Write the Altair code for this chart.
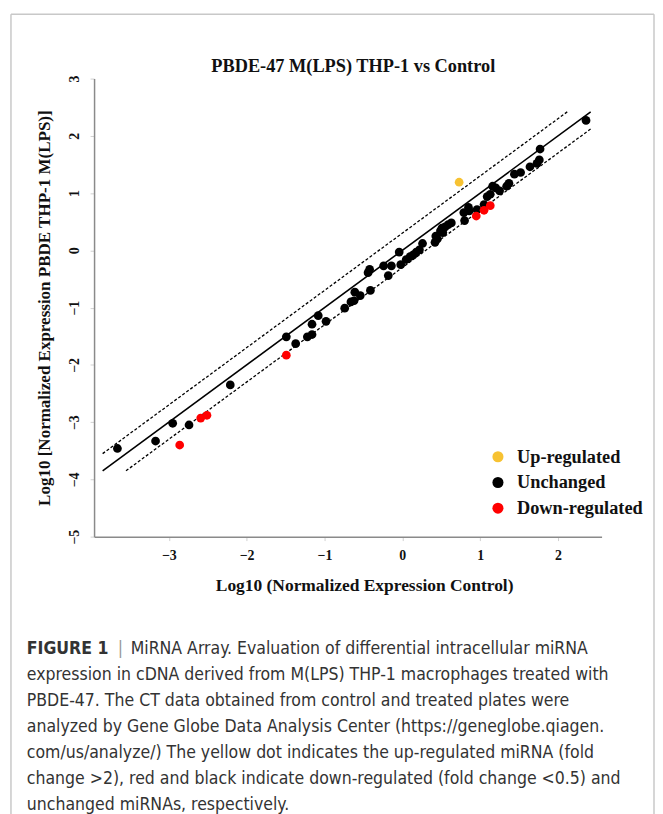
import altair as alt
import pandas as pd

# ---- data ----
unchanged_x = [-3.66, -3.17, -2.95, -2.74, -2.21, -1.49, -1.37, -1.22, -1.16, -1.16,
               -1.08, -0.98, -0.74, -0.66, -0.62, -0.61, -0.54, -0.41, -0.44, -0.42,
               -0.24, -0.18, -0.14, -0.04, -0.02, 0.05, 0.10, 0.14, 0.18, 0.22,
               0.26, 0.42, 0.43, 0.45, 0.49, 0.52, 0.51, 0.55, 0.59, 0.63,
               0.80, 0.79, 0.85, 0.86, 0.96, 1.05, 1.09, 1.13, 1.16, 1.20,
               1.25, 1.34, 1.37, 1.44, 1.52, 1.64, 1.73, 1.76, 1.77, 2.36]
unchanged_y = [-3.46, -3.33, -3.02, -3.05, -2.35, -1.51, -1.63, -1.51, -1.47, -1.29,
               -1.14, -1.24, -1.01, -0.90, -0.88, -0.73, -0.79, -0.70, -0.39, -0.33,
               -0.27, -0.44, -0.27, -0.03, -0.25, -0.16, -0.11, -0.08, -0.03, 0.01,
               0.12, 0.14, 0.25, 0.20, 0.34, 0.31, 0.39, 0.41, 0.45, 0.48,
               0.52, 0.66, 0.75, 0.69, 0.71, 0.80, 0.94, 0.98, 1.12, 1.09,
               1.04, 1.12, 1.17, 1.33, 1.36, 1.46, 1.52, 1.58, 1.77, 2.27]
down_x = [-2.86, -2.59, -2.51, -1.49, 0.95, 1.05, 1.13]
down_y = [-3.40, -2.93, -2.88, -1.83, 0.60, 0.70, 0.78]
up_x = [0.73]
up_y = [1.19]

status_order = ["Up-regulated", "Unchanged", "Down-regulated"]
status_colors = ["#f7c232", "#000000", "#ff0000"]

# reference lines (fold change 1, 2 and 0.5) endpoints
line_kind = ["solid", "dashed", "dashed"]
line_x1 = [-3.85, -3.85, -3.55]
line_y1 = [-3.85, -3.55, -3.85]
line_x2 = [2.42, 2.13, 2.42]
line_y2 = [2.42, 2.43, 2.12]

x_ticks = [-3, -2, -1, 0, 1, 2]
y_ticks = [-5, -4, -3, -2, -1, 0, 1, 2, 3]

title_text = "PBDE-47 M(LPS) THP-1 vs Control"
x_title = "Log10 (Normalized Expression Control)"
y_title = "Log10 [Normalized Expression  PBDE THP-1 M(LPS)]"

caption_head = "FIGURE 1"
caption_first = "MiRNA Array. Evaluation of differential intracellular miRNA"
caption_rest = [
    "expression in cDNA derived from M(LPS) THP-1 macrophages treated with",
    "PBDE-47. The CT data obtained from control and treated plates were",
    "analyzed by Gene Globe Data Analysis Center (https://geneglobe.qiagen.",
    "com/us/analyze/) The yellow dot indicates the up-regulated miRNA (fold",
    "change >2), red and black indicate down-regulated (fold change <0.5) and",
    "unchanged miRNAs, respectively.",
]

# ---- tables ----
points = pd.DataFrame({
    "control": unchanged_x + down_x + up_x,
    "treated": unchanged_y + down_y + up_y,
    "status": ["Unchanged"] * len(unchanged_x) + ["Down-regulated"] * len(down_x)
              + ["Up-regulated"] * len(up_x),
})
lines = pd.DataFrame({"kind": line_kind, "x1": line_x1, "y1": line_y1,
                      "x2": line_x2, "y2": line_y2})

SERIF = "Liberation Serif"
SANS = "DejaVu Sans Condensed, Liberation Sans Narrow, Liberation Sans"
CAP_SIZE = 17.7

W, H = 513, 463
xscale = alt.Scale(domain=[-3.96, 2.56], nice=False, zero=False)
yscale = alt.Scale(domain=[-5, 3], nice=False, zero=False)

xaxis = alt.Axis(values=x_ticks, title=x_title, grid=False, domainColor="#8a8a8a",
                 domainWidth=1.5, tickColor="#d0d0d0", tickSize=4, labelFont=SERIF,
                 labelFontSize=14, labelFontWeight="bold", labelColor="#111",
                 labelPadding=8, titleFont=SERIF, titleFontSize=17.6,
                 titleFontWeight="bold", titleColor="#111", titleX=273, titleY=49,
                 titleAlign="center", titleBaseline="middle", format="d")
yaxis = alt.Axis(values=y_ticks, title=y_title, grid=False, domainColor="#8a8a8a",
                 domainWidth=1.5, tickColor="#d0d0d0", tickSize=4, labelFont=SERIF,
                 labelFontSize=14, labelFontWeight="bold", labelColor="#111",
                 labelAngle=270, labelAlign="center", labelBaseline="middle",
                 labelPadding=16, titleFont=SERIF, titleFontSize=17.2,
                 titleFontWeight="bold", titleColor="#111", titleAngle=270,
                 titleX=-50, titleY=H / 2, titleAlign="center",
                 titleBaseline="middle", format="d")

base_lines = alt.Chart(lines)
solid = base_lines.transform_filter(alt.datum.kind == "solid").mark_rule(
    color="#000", strokeWidth=1.6
).encode(
    x=alt.X("x1:Q", scale=xscale, axis=xaxis),
    y=alt.Y("y1:Q", scale=yscale, axis=yaxis),
    x2="x2:Q", y2="y2:Q",
)
dashed = base_lines.transform_filter(alt.datum.kind == "dashed").mark_rule(
    color="#000", strokeWidth=1.3, strokeDash=[3, 2]
).encode(
    x=alt.X("x1:Q", scale=xscale), y=alt.Y("y1:Q", scale=yscale),
    x2="x2:Q", y2="y2:Q",
)

dots = alt.Chart(points).mark_circle(size=78, opacity=1).encode(
    x=alt.X("control:Q", scale=xscale),
    y=alt.Y("treated:Q", scale=yscale),
    color=alt.Color(
        "status:N",
        scale=alt.Scale(domain=status_order, range=status_colors),
        legend=alt.Legend(title=None, orient="none", legendX=399, legendY=373,
                          symbolType="circle", symbolSize=125, symbolStrokeWidth=0,
                          labelFont=SERIF, labelFontSize=18.5, labelFontWeight="bold",
                          labelColor="#111", rowPadding=7, labelOffset=10, padding=0),
    ),
)

one = pd.DataFrame({"a": [0]})
FRAME = dict(color="#c8c8c8", strokeWidth=1.5)
frame_top = alt.Chart(one).mark_rule(**FRAME).encode(
    x=alt.value(-84), x2=alt.value(566), y=alt.value(-65), y2=alt.value(-65))
frame_left = alt.Chart(one).mark_rule(**FRAME).encode(
    x=alt.value(-84), x2=alt.value(-84), y=alt.value(-65), y2=alt.value(745))
frame_right = alt.Chart(one).mark_rule(**FRAME).encode(
    x=alt.value(566), x2=alt.value(566), y=alt.value(-65), y2=alt.value(745))

title = alt.Chart(one).mark_text(text=title_text, font=SERIF, fontSize=18.5,
                                 fontWeight="bold", color="#111", align="center",
                                 baseline="middle").encode(
    x=alt.value(262), y=alt.value(-13))

CAP_Y = 577
CAP_LH = 26.2
cap_head = alt.Chart(one).mark_text(text=caption_head, font=SANS, fontSize=CAP_SIZE,
                                    fontWeight="bold", color="#333", align="left",
                                    baseline="middle").encode(
    x=alt.value(-68), y=alt.value(CAP_Y))
cap_bar = alt.Chart(one).mark_text(text="|", font=SANS, fontSize=CAP_SIZE,
                                   color="#999", align="left",
                                   baseline="middle").encode(
    x=alt.value(24), y=alt.value(CAP_Y))
cap_first = alt.Chart(one).mark_text(text=caption_first, font=SANS, fontSize=CAP_SIZE,
                                     color="#333", align="left",
                                     baseline="middle").encode(
    x=alt.value(37), y=alt.value(CAP_Y))
cap_rest = alt.Chart(one).mark_text(text=caption_rest, font=SANS, fontSize=CAP_SIZE,
                                    color="#333", align="left", baseline="middle",
                                    lineHeight=CAP_LH).encode(
    x=alt.value(-68), y=alt.value(CAP_Y + CAP_LH))

chart = alt.layer(frame_top, frame_left, frame_right, solid, dashed, dots, title,
                  cap_head, cap_bar, cap_first, cap_rest).properties(
    width=W, height=H,
    autosize=alt.AutoSizeParams(type="none"),
    padding={"left": 87, "top": 67, "right": 54, "bottom": 276},
    background="white",
).configure_view(stroke=None)

chart.save("out.html", embed_options={"renderer": "svg", "actions": False})
